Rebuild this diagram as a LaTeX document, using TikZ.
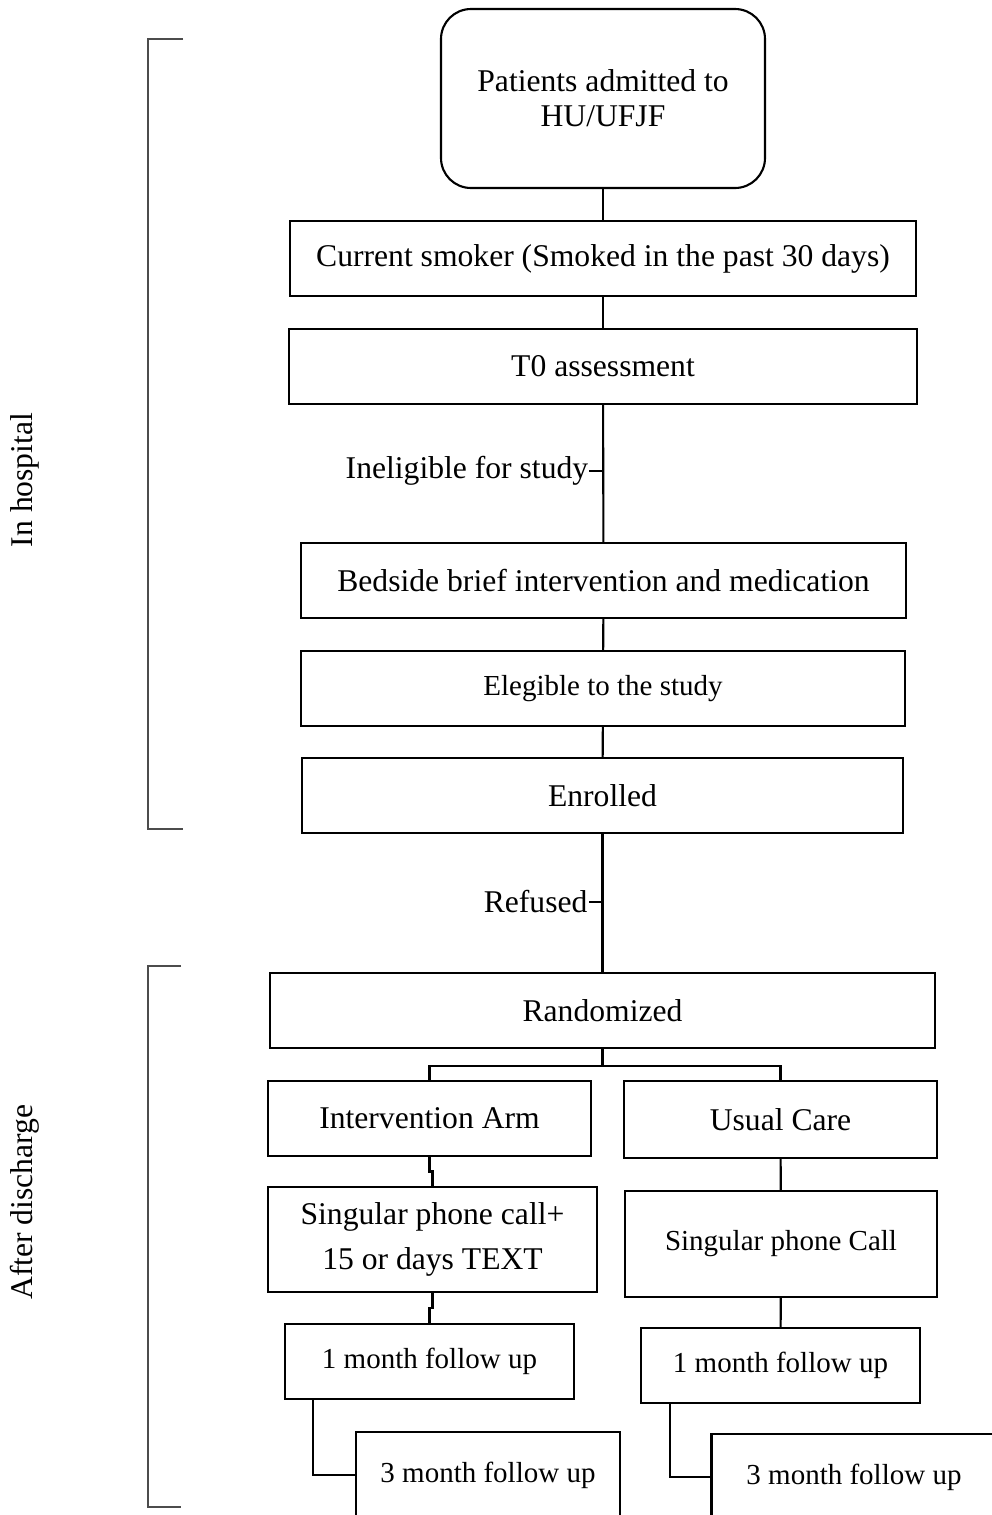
\documentclass[tikz,border=0pt]{standalone}
\usepackage{fontspec}
\setmainfont{Liberation Serif}
\usetikzlibrary{calc,positioning}

\begin{document}
\begin{tikzpicture}[
    box/.style={draw,line width=1.2pt,minimum height=1.5cm,inner sep=0pt,font=\fontsize{18}{20}\selectfont},
    smallbox/.style={box,font=\fontsize{16.5}{20}\selectfont},
    link/.style={line width=1.2pt},
    bracket/.style={line width=1pt,gray!60!black}]
 \useasboundingbox (0,0) rectangle (19.84,-30.3);
 \clip (0,0) rectangle (19.84,-30.3);

    % draw in hospital boxes
    \node[box,rounded corners=0.6cm,minimum width=6.48cm,minimum height=3.58cm,align=center] (start) at (12.06,-1.97) {Patients admitted to\\HU/UFJF};
    \node[box,minimum width=12.52cm] (smoker) at (12.06,-5.17) {Current smoker (Smoked in the past 30 days)};
    \node[box,minimum width=12.56cm] (tzero) at (12.06,-7.33) {T0 assessment};
    \node[box,minimum width=12.1cm] (bedside) at (12.07,-11.61) {Bedside brief intervention and medication};
    \node[smallbox,minimum width=12.08cm] (elig) at (12.06,-13.77) {Elegible to the study};
    \node[box,minimum width=12.02cm] (enrol) at (12.05,-15.91) {Enrolled};

    % draw after discharge boxes
    \node[box,minimum width=13.3cm] (random) at (12.05,-20.21) {Randomized};
    \node[box,minimum width=6.46cm] (interv) at (8.59,-22.37) {Intervention Arm};
    \node[box,minimum width=6.26cm,minimum height=1.54cm] (usual) at (15.61,-22.39) {Usual Care};
    \node[box,minimum width=6.58cm,minimum height=2.1cm,align=center,font=\fontsize{18}{25.5}\selectfont] (callL) at (8.65,-24.79) {Singular phone call+\\15 or days TEXT};
    \node[smallbox,minimum width=6.24cm,minimum height=2.12cm] (callR) at (15.62,-24.88) {Singular phone Call};
    \node[smallbox,minimum width=5.78cm] (oneL) at (8.59,-27.23) {1 month follow up};
    \node[smallbox,minimum width=5.58cm] (oneR) at (15.61,-27.31) {1 month follow up};
    \node[smallbox,minimum width=5.28cm,minimum height=1.72cm] (threeL) at (9.76,-29.5) {3 month follow up};
    \node[smallbox,minimum width=5.7cm,minimum height=1.72cm] (threeR) at (17.08,-29.54) {3 month follow up};

    % draw links
    \draw[link] (start) -- (smoker);
    \draw[link] (smoker) -- (tzero);
    \draw[link] (tzero) -- (bedside) coordinate[pos=0.48] (inel);
    \node[box,draw=none,minimum height=0pt,anchor=east] (inelig) at ($(inel)+(-0.28,0)$) {Ineligible for study};
    \draw[link] (inel) -- (inelig.east);
    \draw[link] (bedside) -- (elig);
    \draw[link] (elig) -- (enrol);
    \draw[link] (enrol) -- (random) coordinate[pos=0.49] (refu);
    \node[box,draw=none,minimum height=0pt,anchor=east] (refused) at ($(refu)+(-0.28,0)$) {Refused};
    \draw[link] (refu) -- (refused.east);

    \draw[link] (random.south) -- ++(0,-0.34) coordinate (split);
    \draw[link] (split) -| (interv.north);
    \draw[link] (split) -| (usual.north);
    \draw[link] (interv.south) |- ($(interv.south)!0.5!(callL.north)$) -| (callL.north);
    \draw[link] (callL.south) |- ($(callL.south)!0.5!(oneL.north)$) -| (oneL.north);
    \draw[link] (usual) -- (callR);
    \draw[link] (callR) -- (oneR);
    \draw[link] ($(oneL.south west)+(0.58,0)$) |- (threeL.west);
    \draw[link] ($(oneR.south west)+(0.6,0)$) |- (threeR.west);

    % draw brackets
    \draw[bracket] (3.66,-0.78) -- (2.96,-0.78) -- (2.96,-16.58) -- (3.66,-16.58);
    \draw[bracket] (3.62,-19.32) -- (2.96,-19.32) -- (2.96,-30.14) -- (3.62,-30.14);
    \node[rotate=90,font=\fontsize{18}{21}\selectfont] (hosp) at (0.5,-9.6) {In hospital};
    \node[rotate=90,font=\fontsize{18}{21}\selectfont] (disch) at (0.5,-24.04) {After discharge};

\end{tikzpicture}
\end{document}
